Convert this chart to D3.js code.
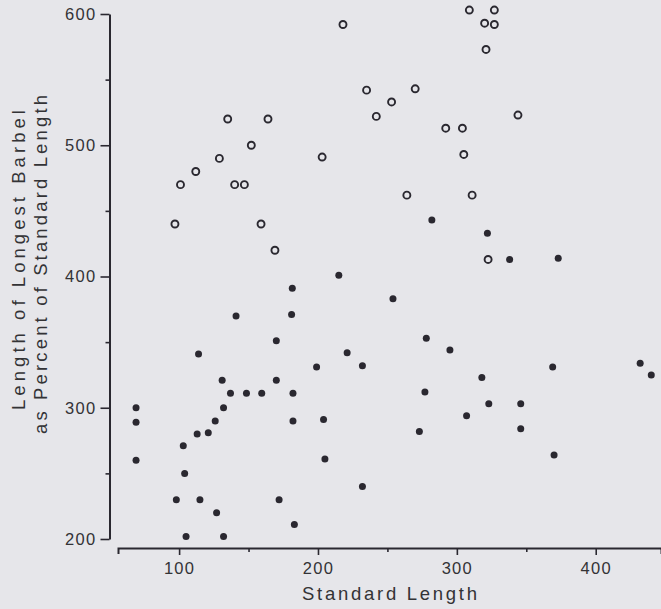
<!DOCTYPE html>
<html>
<head>
<meta charset="utf-8">
<script src="https://cdn.jsdelivr.net/npm/d3@7"></script>
<style>
  html, body { margin: 0; padding: 0; background: #e6e6ea; }
  svg { display: block; }
  text { font-family: "Liberation Sans", Arial, Helvetica, sans-serif; fill: #333336; }
</style>
</head>
<body>
<svg id="chart" width="661" height="609"></svg>
<script>
// ---- Data ----
const xTicksMajor = [100, 200, 300, 400];
const xTicksMinor = [150, 250, 350];
const yTicksMajor = [200, 300, 400, 500, 600];
const yTicksMinor = [250, 350, 450, 550];

// Open circles
const openX = [97, 101, 112, 129, 135, 140, 147, 152, 159, 164, 169, 203,
               218, 309, 327, 320, 327, 321, 235, 270, 253, 242, 344, 292,
               304, 305, 264, 311, 322.5];
const openY = [440, 470, 480, 490, 520, 470, 470, 500, 440, 520, 420, 491,
               592, 603, 603, 593, 592, 573, 542, 543, 533, 522, 523, 513,
               513, 493, 462, 462, 413];

// Filled dots
const filledX = [181.5, 282, 322, 338, 373, 215, 254,
                 69, 69, 69, 141, 181, 170, 114, 199, 131, 170, 137, 148.5, 159.5, 182,
                 132, 126, 204, 182, 113, 121, 103, 205, 104, 98, 115, 172, 127, 183, 105, 132,
                 278, 221, 232, 295, 369, 432, 440, 318, 277, 323, 346, 307, 273, 346, 370, 232];
const filledY = [391, 443, 433, 413, 414, 401, 383,
                 300, 289, 260, 370, 371, 351, 341, 331, 321, 321, 311, 311, 311, 311,
                 300, 290, 291, 290, 280, 281, 271, 261, 250, 230, 230, 230, 220, 211, 202, 202,
                 353, 342, 332, 344, 331, 334, 325, 323, 312, 303, 303, 294, 282, 284, 264, 240];

const xLabel = "Standard Length";
const yLabel1 = "Length of Longest Barbel";
const yLabel2 = "as Percent of Standard Length";

// ---- Scales ----
const svg = d3.select("#chart");
const ink = "#2a2830";
const x = d3.scaleLinear().domain([56, 447]).range([118, 661]);
const y = d3.scaleLinear().domain([200, 600]).range([539, 14]);
const yAxisX = 109.5;
const xAxisY = 548;

// ---- Y axis ----
const gy = svg.append("g").attr("transform", `translate(${yAxisX},0)`)
  .call(d3.axisLeft(y).tickValues(yTicksMajor).tickSize(9).tickSizeOuter(0).tickPadding(4)
        .tickFormat(d3.format("d")));
svg.append("g").attr("transform", `translate(${yAxisX},0)`)
  .call(d3.axisLeft(y).tickValues(yTicksMinor).tickSize(4).tickSizeOuter(0).tickFormat(""))
  .select(".domain").remove();

// ---- X axis ----
const gx = svg.append("g").attr("transform", `translate(0,${xAxisY})`)
  .call(d3.axisBottom(x).tickValues(xTicksMajor).tickSize(7).tickSizeOuter(6)
        .tickFormat(d3.format("d")));
svg.append("g").attr("transform", `translate(0,${xAxisY})`)
  .call(d3.axisBottom(x).tickValues(xTicksMinor).tickSize(4).tickSizeOuter(0).tickFormat(""))
  .select(".domain").remove();

svg.selectAll(".domain").attr("stroke", ink).attr("stroke-width", 2);
svg.selectAll(".tick line").attr("stroke", ink).attr("stroke-width", 1.6);
gy.selectAll(".tick text")
  .attr("font-size", 16.5).attr("letter-spacing", "1.3px")
  .attr("font-family", "Liberation Sans, Arial, sans-serif")
  .attr("fill", "#333336");
gx.selectAll(".tick text")
  .attr("font-size", 16.5).attr("letter-spacing", "1.3px")
  .attr("font-family", "Liberation Sans, Arial, sans-serif")
  .attr("fill", "#333336")
  .attr("y", 25.5).attr("dy", 0);

// ---- Axis titles ----
svg.append("text")
  .attr("x", 389.5).attr("y", 600)
  .attr("text-anchor", "middle")
  .attr("font-size", 18.5)
  .attr("textLength", 175).attr("lengthAdjust", "spacing")
  .text(xLabel);

svg.append("text")
  .attr("transform", `translate(24.5,260) rotate(-90)`)
  .attr("text-anchor", "middle")
  .attr("font-size", 18.5)
  .attr("textLength", 300).attr("lengthAdjust", "spacing")
  .text(yLabel1);

svg.append("text")
  .attr("transform", `translate(47,264.5) rotate(-90)`)
  .attr("text-anchor", "middle")
  .attr("font-size", 18.5)
  .attr("textLength", 339).attr("lengthAdjust", "spacing")
  .text(yLabel2);

// ---- Points ----
const openData = openX.map((v, i) => ({ x: v, y: openY[i] }));
const filledData = filledX.map((v, i) => ({ x: v, y: filledY[i] }));

svg.append("g").selectAll("circle").data(openData).join("circle")
  .attr("cx", d => x(d.x)).attr("cy", d => y(d.y))
  .attr("r", 3.5)
  .attr("fill", "none").attr("stroke", ink).attr("stroke-width", 1.9);

svg.append("g").selectAll("circle").data(filledData).join("circle")
  .attr("cx", d => x(d.x)).attr("cy", d => y(d.y))
  .attr("r", 3.5)
  .attr("fill", ink);
</script>
</body>
</html>
